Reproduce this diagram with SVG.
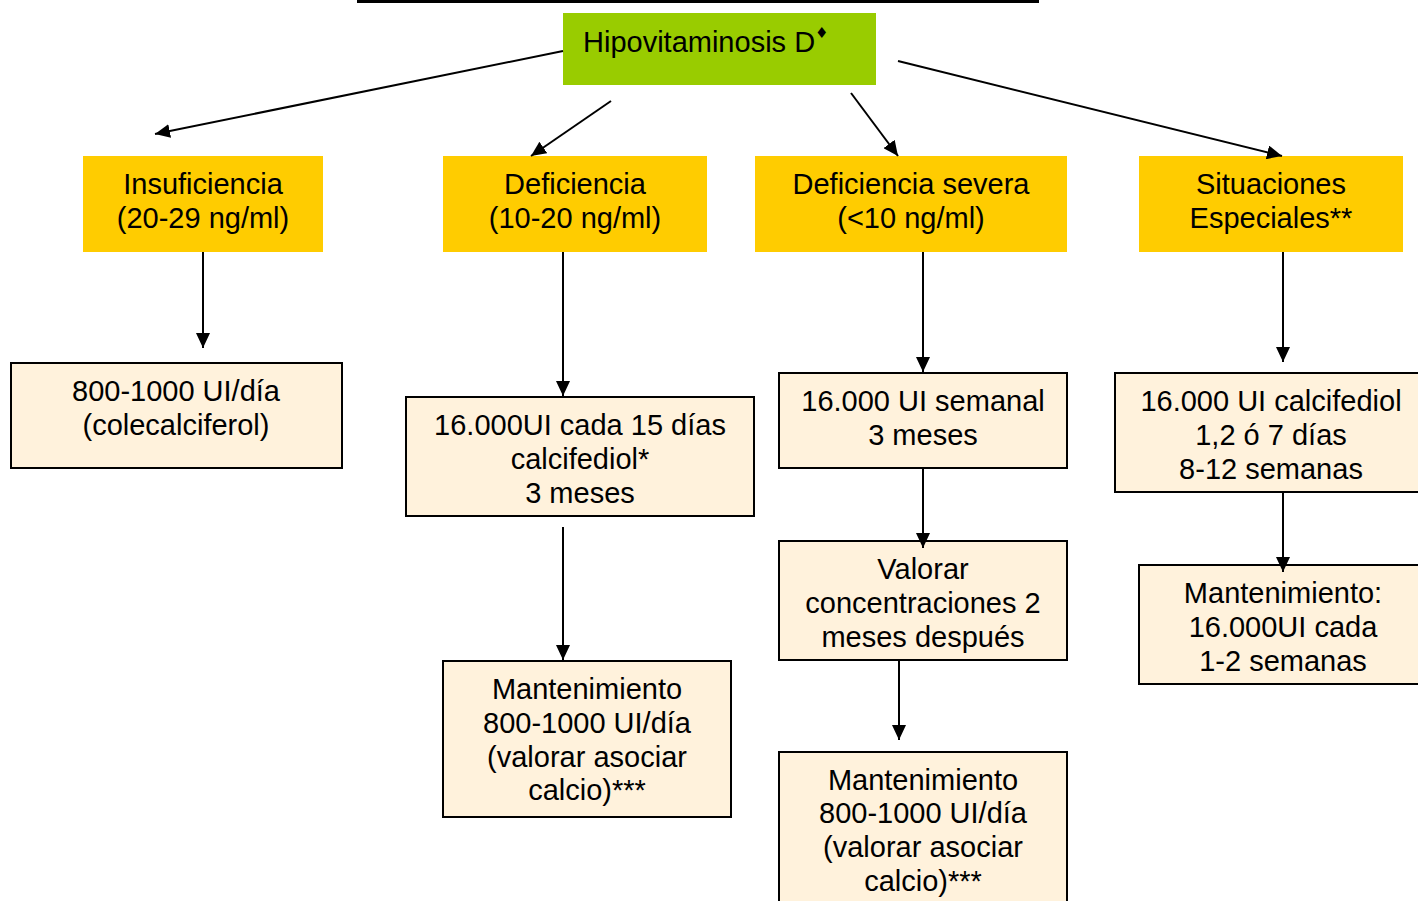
<svg xmlns="http://www.w3.org/2000/svg" width="1418" height="901" viewBox="0 0 1418 901">
<defs>
<style>
text{font-family:"Liberation Sans",Arial,sans-serif;font-size:29px;fill:#000;text-anchor:middle}
.g{fill:#99CC00}
.y{fill:#FFCC00}
.b{fill:#FFF2DC;stroke:#000;stroke-width:2}
.c line{stroke:#000;stroke-width:2;marker-end:url(#ah)}
</style>
<marker id="ah" markerUnits="userSpaceOnUse" markerWidth="16" markerHeight="14" refX="15" refY="7" orient="auto">
<path d="M0,0 L15,7 L0,14 z" fill="#000"/>
</marker>
</defs>
<rect width="1418" height="901" fill="#fff"/>
<line x1="357" y1="1.5" x2="1039" y2="1.5" stroke="#000" stroke-width="3"/>

<g id="n-root">
<rect class="g" x="563" y="13" width="313" height="72"/>
<text x="583" y="52" style="text-anchor:start">Hipovitaminosis D<tspan font-size="15" dy="-14" font-family="DejaVu Sans,sans-serif">♦</tspan></text>
</g>

<g id="n-insuf">
<rect class="y" x="83" y="156" width="240" height="96"/>
<text x="203" y="194">Insuficiencia</text>
<text x="203" y="228">(20-29 ng/ml)</text>
</g>
<g id="n-defic">
<rect class="y" x="443" y="156" width="264" height="96"/>
<text x="575" y="194">Deficiencia</text>
<text x="575" y="228">(10-20 ng/ml)</text>
</g>
<g id="n-sev">
<rect class="y" x="755" y="156" width="312" height="96"/>
<text x="911" y="194">Deficiencia severa</text>
<text x="911" y="228">(&lt;10 ng/ml)</text>
</g>
<g id="n-esp">
<rect class="y" x="1139" y="156" width="264" height="96"/>
<text x="1271" y="194">Situaciones</text>
<text x="1271" y="228">Especiales**</text>
</g>

<g id="n-b1">
<rect class="b" x="11" y="363" width="331" height="105"/>
<text x="176" y="401">800-1000 UI/día</text>
<text x="176" y="435">(colecalciferol)</text>
</g>
<g id="n-b2">
<rect class="b" x="406" y="397" width="348" height="119"/>
<text x="580" y="435">16.000UI cada 15 días</text>
<text x="580" y="469">calcifediol*</text>
<text x="580" y="503">3 meses</text>
</g>
<g id="n-b3">
<rect class="b" x="443" y="661" width="288" height="156"/>
<text x="587" y="699">Mantenimiento</text>
<text x="587" y="733">800-1000 UI/día</text>
<text x="587" y="767">(valorar asociar</text>
<text x="587" y="800">calcio)***</text>
</g>
<g id="n-b4">
<rect class="b" x="779" y="373" width="288" height="95"/>
<text x="923" y="411">16.000 UI semanal</text>
<text x="923" y="445">3 meses</text>
</g>
<g id="n-b5">
<rect class="b" x="779" y="541" width="288" height="119"/>
<text x="923" y="579">Valorar</text>
<text x="923" y="613">concentraciones 2</text>
<text x="923" y="647">meses después</text>
</g>
<g id="n-b6">
<rect class="b" x="779" y="752" width="288" height="160"/>
<text x="923" y="790">Mantenimiento</text>
<text x="923" y="823">800-1000 UI/día</text>
<text x="923" y="857">(valorar asociar</text>
<text x="923" y="891">calcio)***</text>
</g>
<g id="n-b7">
<rect class="b" x="1115" y="373" width="320" height="119"/>
<text x="1271" y="411">16.000 UI calcifediol</text>
<text x="1271" y="445">1,2 ó 7 días</text>
<text x="1271" y="479">8-12 semanas</text>
</g>
<g id="n-b8">
<rect class="b" x="1139" y="565" width="296" height="119"/>
<text x="1283" y="603">Mantenimiento:</text>
<text x="1283" y="637">16.000UI cada</text>
<text x="1283" y="671">1-2 semanas</text>
</g>

<g id="connectors" class="c">
<line x1="563" y1="51" x2="155" y2="134"/>
<line x1="611" y1="101" x2="531" y2="156"/>
<line x1="851" y1="93" x2="898" y2="156"/>
<line x1="898" y1="61" x2="1282" y2="156"/>
<line x1="203" y1="252" x2="203" y2="348"/>
<line x1="563" y1="252" x2="563" y2="396"/>
<line x1="563" y1="527" x2="563" y2="660"/>
<line x1="923" y1="252" x2="923" y2="372"/>
<line x1="923" y1="468" x2="923" y2="548"/>
<line x1="899" y1="660" x2="899" y2="740"/>
<line x1="1283" y1="252" x2="1283" y2="362"/>
<line x1="1283" y1="492" x2="1283" y2="572"/>
</g>
</svg>
